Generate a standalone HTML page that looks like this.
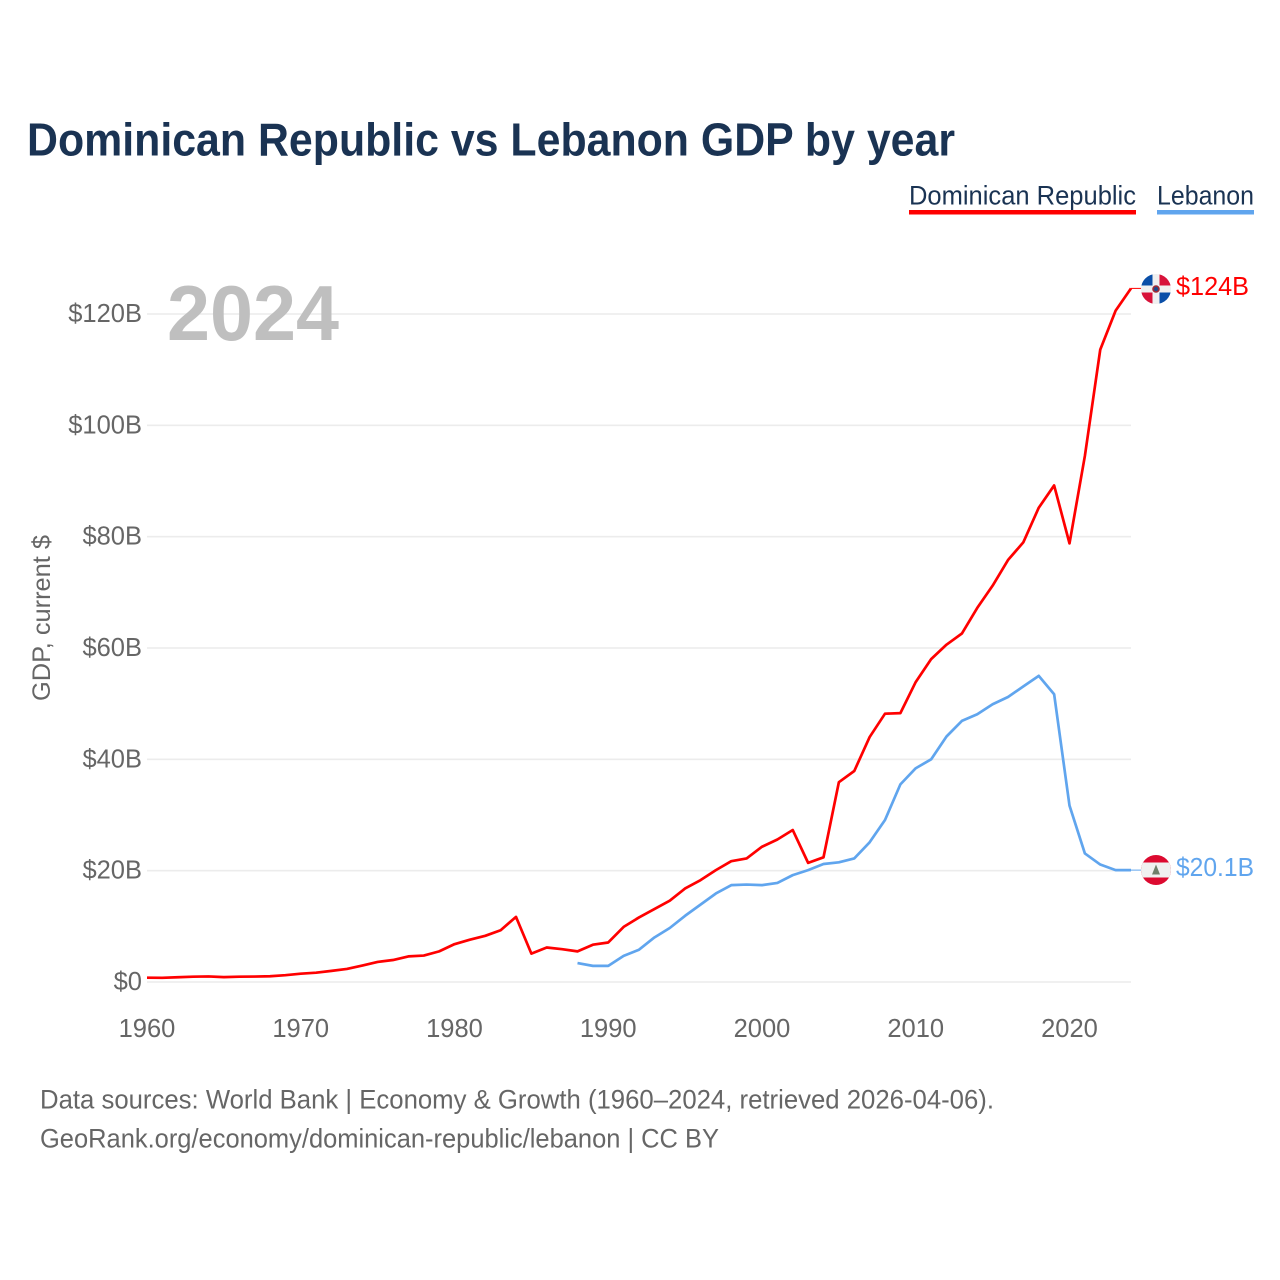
<!DOCTYPE html>
<html lang="en">
<head>
<meta charset="utf-8">
<title>Dominican Republic vs Lebanon GDP by year</title>
<style>
html,body{margin:0;padding:0;background:#fff;width:1280px;height:1280px;overflow:hidden}
svg{display:block}
text{font-family:"Liberation Sans",sans-serif}
</style>
</head>
<body>
<svg id="chart" xmlns="http://www.w3.org/2000/svg" width="1280" height="1280" viewBox="0 0 1280 1280">
  <defs>
    <clipPath id="clip-dr"><circle cx="1156" cy="289" r="15"/></clipPath>
    <clipPath id="clip-lb"><circle cx="1156" cy="870" r="15"/></clipPath>
  </defs>
  <rect width="1280" height="1280" fill="#fff"/>
  <text x="27" y="155.5" font-size="46" font-weight="700" fill="#1a3353" textLength="928" lengthAdjust="spacingAndGlyphs">Dominican Republic vs Lebanon GDP by year</text>
  <g>
    <text x="909" y="204.5" font-size="26.5" fill="#1a3353" textLength="227" lengthAdjust="spacingAndGlyphs">Dominican Republic</text>
    <rect x="909" y="210" width="227" height="4.5" fill="#ff0000"/>
  </g>
  <g>
    <text x="1157" y="204.5" font-size="26.5" fill="#1a3353" textLength="97" lengthAdjust="spacingAndGlyphs">Lebanon</text>
    <rect x="1157" y="210" width="97" height="4.5" fill="#60a5ee"/>
  </g>
  <g id="grid"></g>
  <g id="yticks"></g>
  <g id="xticks"></g>
  <text transform="translate(50,618) rotate(-90)" text-anchor="middle" font-size="25" fill="#666666" textLength="166" lengthAdjust="spacingAndGlyphs">GDP, current $</text>
  <text x="167" y="340" font-size="78" font-weight="700" fill="#bfbfbf" textLength="172" lengthAdjust="spacingAndGlyphs">2024</text>
  <g id="series"></g>
  <g clip-path="url(#clip-dr)">
    <rect x="1141" y="274" width="30" height="30" fill="#f0f0f0"/>
    <rect x="1141" y="274" width="11.5" height="11.5" fill="#0a4fa8"/>
    <rect x="1159.5" y="274" width="11.5" height="11.5" fill="#d8133a"/>
    <rect x="1141" y="292.5" width="11.5" height="11.5" fill="#d8133a"/>
    <rect x="1159.5" y="292.5" width="11.5" height="11.5" fill="#0a4fa8"/>
    <circle cx="1156" cy="289" r="3" fill="#1f4a8a" stroke="#a02a35" stroke-width="1.6"/>
  </g>
  <g clip-path="url(#clip-lb)">
    <rect x="1141" y="855" width="30" height="30" fill="#dc0a30"/>
    <rect x="1141" y="862.5" width="30" height="15" fill="#f0f0f0"/>
    <polygon points="1156,864.5 1160,874.5 1152,874.5" fill="#6f7f6a"/>
  </g>
  <text x="1176" y="295" font-size="25.5" fill="#ff0000" textLength="73" lengthAdjust="spacingAndGlyphs">$124B</text>
  <text x="1176" y="876" font-size="25.5" fill="#60a5ee" textLength="78" lengthAdjust="spacingAndGlyphs">$20.1B</text>
  <text x="40" y="1108.5" font-size="26.5" fill="#666666" textLength="954" lengthAdjust="spacingAndGlyphs">Data sources: World Bank | Economy &amp; Growth (1960–2024, retrieved 2026-04-06).</text>
  <text x="40" y="1147.5" font-size="26.5" fill="#666666" textLength="679" lengthAdjust="spacingAndGlyphs">GeoRank.org/economy/dominican-republic/lebanon | CC BY</text>
</svg>
<script>
const firstYear = 1960;
const dominicanRepublic = [0.77,0.75,0.85,0.95,1.0,0.88,0.95,0.98,1.03,1.22,1.49,1.67,2.0,2.35,2.95,3.6,3.95,4.6,4.75,5.5,6.8,7.6,8.3,9.3,11.7,5.1,6.2,5.9,5.5,6.7,7.1,9.9,11.6,13.1,14.6,16.8,18.3,20.1,21.7,22.2,24.3,25.6,27.3,21.4,22.4,35.9,37.9,44.0,48.2,48.3,53.9,58.0,60.6,62.6,67.2,71.2,75.8,79.0,85.2,89.2,78.8,94.5,113.6,120.6,124.6];
const lebanon = [null,null,null,null,null,null,null,null,null,null,null,null,null,null,null,null,null,null,null,null,null,null,null,null,null,null,null,null,3.4,2.9,2.9,4.7,5.8,8.0,9.7,11.9,13.9,15.9,17.4,17.5,17.4,17.8,19.2,20.1,21.2,21.5,22.2,25.1,29.1,35.5,38.4,40.0,44.1,46.9,48.1,49.9,51.2,53.1,55.0,51.7,31.7,23.1,21.1,20.1,20.1];
const yTickValues = [0,20,40,60,80,100,120];
const xTickValues = [1960,1970,1980,1990,2000,2010,2020];

const SVG_NS = 'http://www.w3.org/2000/svg';
const xAxis = function (year) { return 147 + (year - 1960) * (1069.5 - 147) / 60; };
const yAxis = function (value) { return 982 - value * (982 - 314) / 120; };
const makeEl = function (tag, attrs, parent) {
  const el = document.createElementNS(SVG_NS, tag);
  Object.keys(attrs).forEach(function (k) { el.setAttribute(k, attrs[k]); });
  parent.appendChild(el);
  return el;
};

const gridGroup = document.getElementById('grid');
const yGroup = document.getElementById('yticks');
const xGroup = document.getElementById('xticks');
const seriesGroup = document.getElementById('series');

yTickValues.forEach(function (v) {
  const line = makeEl('line', {x1: 147, x2: 1131, y1: yAxis(v), y2: yAxis(v), stroke: '#ececec', 'stroke-width': 1.6}, gridGroup);
  
  
  const label = makeEl('text', {x: 142, y: yAxis(v) + 8, 'text-anchor': 'end', 'font-size': 25.5, fill: '#666666'}, yGroup);
  
  
  label.textContent = '$' + v + (v === 0 ? '' : 'B');
});

xTickValues.forEach(function (y) {
  const label = makeEl('text', {x: xAxis(y), y: 1037, 'text-anchor': 'middle', 'font-size': 25.5, fill: '#666666'}, xGroup);
  
  
  label.textContent = y;
});

const pointsFor = function (values) {
  const pts = [];
  values.forEach(function (v, i) {
    if (v !== null) {
      pts.push(xAxis(firstYear + i).toFixed(2) + ',' + yAxis(v).toFixed(2));
    }
  });
  return pts;
};

const drPts = pointsFor(dominicanRepublic);
const lbPts = pointsFor(lebanon);

const drLeader = makeEl('line', {x1: xAxis(2024), x2: 1141, y1: yAxis(dominicanRepublic[64]), y2: yAxis(dominicanRepublic[64]), stroke: '#ff0000', 'stroke-width': 1}, seriesGroup);



const lbLeader = makeEl('line', {x1: xAxis(2024), x2: 1141, y1: yAxis(lebanon[64]), y2: yAxis(lebanon[64]), stroke: '#60a5ee', 'stroke-width': 1}, seriesGroup);



const lbLine = makeEl('polyline', {points: lbPts.join(' '), fill: 'none', stroke: '#60a5ee', 'stroke-width': 2.7, 'stroke-linejoin': 'round'}, seriesGroup);



const drLine = makeEl('polyline', {points: drPts.join(' '), fill: 'none', stroke: '#ff0000', 'stroke-width': 2.7, 'stroke-linejoin': 'round'}, seriesGroup);


</script>
</body>
</html>
